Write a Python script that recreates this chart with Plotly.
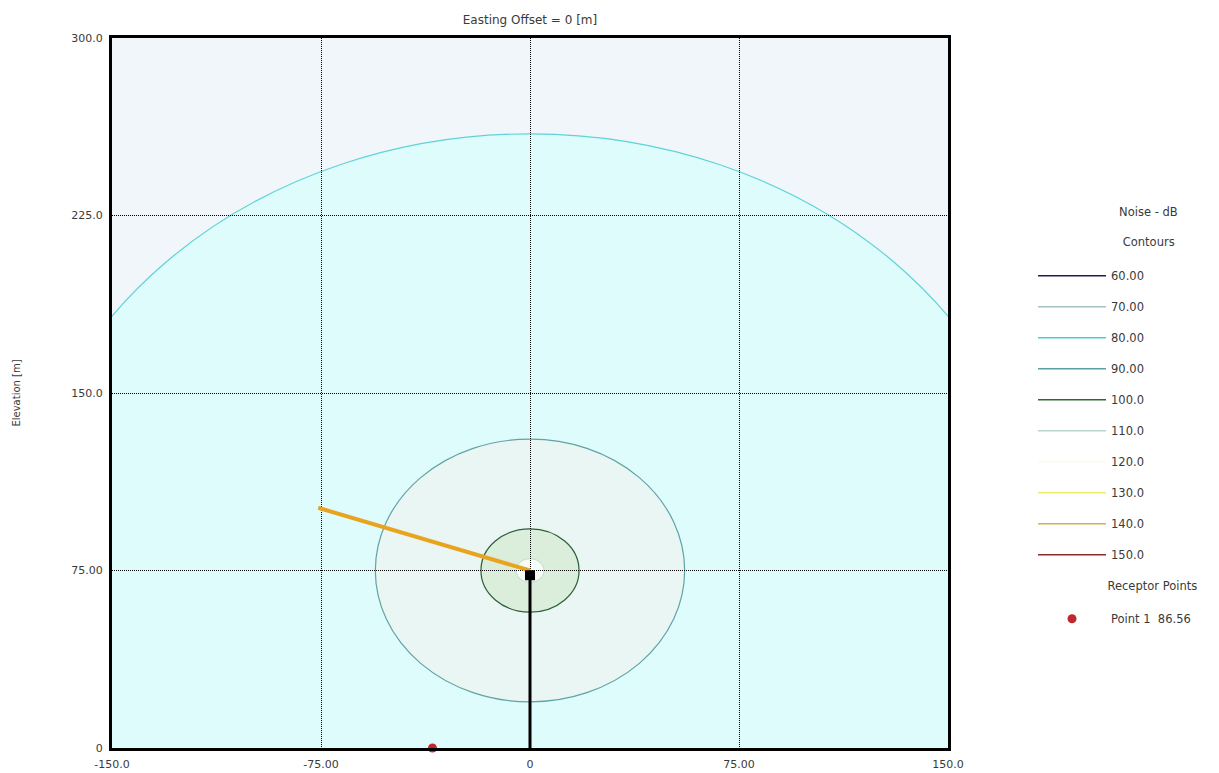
import plotly.graph_objects as go

# ---------------- data ----------------
x_tick_vals = [-150, -75, 0, 75, 150]
x_tick_text = ["-150.0", "-75.00", "0", "75.00", "150.0"]
y_tick_vals = [0, 75, 150, 225, 300]
y_tick_text = ["0", "75.00", "150.0", "225.0", "300.0"]

legend_levels = ["60.00", "70.00", "80.00", "90.00", "100.0",
                 "110.0", "120.0", "130.0", "140.0", "150.0"]
legend_colors = ["#1c1c5c", "#a3c2cc", "#40d2d8", "#5f9fa3", "#2c6a2c",
                 "#b9d6c9", "#fbfbec", "#eeee6a", "#d6b24a", "#8e2a2a"]

# contours visible in the section (centred on the source)
source_x = 0
source_y = 75
contour_levels = [80, 90, 100, 110]
contour_radii = [184.5, 55.5, 17.6, 5.0]
contour_line_colors = ["#5ed3d6", "#5fa3a6", "#2c5e36", "#c8e0d2"]
contour_fill_colors = ["#dffcfc", "#eaf6f3", "#dbeddb", "#f6fdf6"]

# source stem and marker
stem_x = [0, 0]
stem_y = [0, 75]
marker_x = [0]
marker_y = [73]

# path line
path_x = [-76, 0]
path_y = [101.5, 75]

# receptor points
receptor_x = [-35]
receptor_y = [0]
receptor_names = ["Point 1  86.56"]

bg_color = "#f1f6fb"
font_family = "DejaVu Sans, Verdana, sans-serif"
text_color = "#3a3a3a"
NB = "\u00a0"

# page has an 8px body margin: figure coords = page coords - 8
W, H = 1211, 765
ML, MT = 104, 30
MR, MB = W - 940, H - 740

# ---------------- figure ----------------
fig = go.Figure()

# legend-only contour entries
for lvl, col in zip(legend_levels, legend_colors):
    fig.add_trace(go.Scatter(
        x=[None], y=[None], mode="lines",
        line=dict(color=col, width=1.5),
        name=lvl, legendgroup="g" + lvl,
        showlegend=True,
    ))

# filled contours (shapes through the data axes, below gridlines)
shapes = []
for r, lc, fc in zip(contour_radii, contour_line_colors, contour_fill_colors):
    shapes.append(dict(
        type="circle", xref="x", yref="y",
        x0=source_x - r, x1=source_x + r,
        y0=source_y - r, y1=source_y + r,
        line=dict(color=lc, width=1.2),
        fillcolor=fc, layer="below",
    ))

# source stem
fig.add_trace(go.Scatter(
    x=stem_x, y=stem_y, mode="lines",
    line=dict(color="black", width=3),
    showlegend=False, hoverinfo="skip",
))
# path
fig.add_trace(go.Scatter(
    x=path_x, y=path_y, mode="lines",
    line=dict(color="#e9a41f", width=4),
    showlegend=False, hoverinfo="skip",
))
# source marker
fig.add_trace(go.Scatter(
    x=marker_x, y=marker_y, mode="markers",
    marker=dict(symbol="square", color="black", size=10),
    showlegend=False, hoverinfo="skip",
))
# receptor
fig.add_trace(go.Scatter(
    x=receptor_x, y=receptor_y, mode="markers",
    marker=dict(color="#c0282e", size=9),
    name=NB + "<br>" + receptor_names[0], legendgroup="receptors",
    legendgrouptitle_text=NB * 19 + "Receptor Points",
    legendgrouptitle_font=dict(size=11.5, color=text_color, family=font_family),
    cliponaxis=False,
))

axis_common = dict(
    showline=True, mirror=True, linecolor="black", linewidth=3,
    showgrid=True, gridcolor="black", griddash="1px,1px", gridwidth=1,
    zeroline=False, ticks="outside", ticklen=4, tickcolor="rgba(0,0,0,0)",
    tickfont=dict(size=11, color=text_color, family=font_family),
    automargin=False,
)

legend_title = (NB * 23 + "Noise - dB<br><br>" + NB * 24 + "Contours<br>" + NB)

fig.update_layout(
    width=W, height=H,
    margin=dict(l=ML, r=MR, t=MT, b=MB, autoexpand=False),
    paper_bgcolor="white",
    plot_bgcolor=bg_color,
    shapes=shapes,
    title=dict(text="Easting Offset = 0 [m]", x=522 / W, xanchor="center",
               y=1 - 12 / H, yanchor="middle",
               font=dict(size=12, color=text_color, family=font_family)),
    xaxis=dict(range=[-150, 150], tickvals=x_tick_vals, ticktext=x_tick_text,
               **axis_common),
    yaxis=dict(range=[0, 300], tickvals=y_tick_vals, ticktext=y_tick_text,
               title=dict(text="Elevation [m]", standoff=49,
                          font=dict(size=10, color=text_color, family=font_family)),
               **axis_common),
    legend=dict(
        x=1.1017, xanchor="left", y=0.7704, yanchor="top",
        bgcolor="rgba(0,0,0,0)",
        font=dict(size=11.5, color=text_color, family=font_family),
        title=dict(text=legend_title, side="top",
                   font=dict(size=11.5, color=text_color, family=font_family)),
        tracegroupgap=12,
        traceorder="grouped",
        itemwidth=68,
        valign="bottom",
    ),
    showlegend=True,
)

fig.write_html("out.html")
